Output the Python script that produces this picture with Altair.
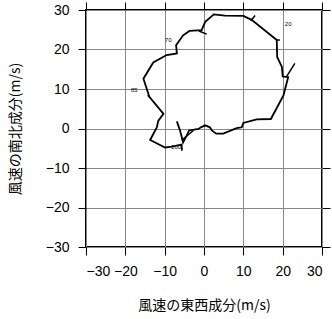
import altair as alt
import pandas as pd

# hodograph path (u: east-west, v: north-south), in order
u_vals = [-6.9, -6.1, -5.3, -4.4, -3.8, -1.4, -0.8, 0.3, 1.5, 2.0, 3.1, 4.9, 8.3, 9.6, 10.0,
          13.4, 17.0, 20.2, 21.4, 20.0, 19.8, 18.6, 18.5, 12.1, 10.0, 5.3, 2.5, 0.3, -0.6,
          -3.7, -5.3, -7.1, -6.9, -9.5, -12.9, -15.4, -13.9, -10.3, -11.6, -12.0, -13.7,
          -9.9, -8.2, -5.7, -5.6]
v_vals = [1.8, -0.5, -3.5, -1.8, -0.5, -0.1, 0.3, 0.8, 0.3, -0.5, -1.3, -1.3, 0.1, 0.3, 1.4,
          2.3, 2.4, 8.4, 13.0, 13.2, 15.6, 18.1, 22.4, 27.5, 28.5, 28.6, 28.9, 27.0, 24.9,
          24.7, 23.6, 21.1, 19.0, 18.6, 16.7, 12.6, 8.0, 3.7, 2.0, 0.3, -2.9,
          -4.8, -4.6, -4.1, -5.6]

# small barb ticks along the path
barb_u1 = [11.9, 20.9, -1.3, 18.3, -14.3, -5.7]
barb_v1 = [27.3, 13.0, 24.7, 22.4, 8.4, -3.0]
barb_u2 = [13.0, 23.1, 0.7, 19.3, -13.7, -2.7]
barb_v2 = [28.6, 16.5, 23.9, 22.4, 7.8, -0.5]

# level labels
lab_text = ["20", "70", "85", "100"]
lab_u = [21.4, -9.1, -17.7, -7.1]
lab_v = [26.4, 22.4, 9.7, -4.8]

ticks = [-30, -20, -10, 0, 10, 20, 30]

path_df = pd.DataFrame({"u": u_vals, "v": v_vals, "i": list(range(len(u_vals)))})
barb_df = pd.DataFrame({"u": barb_u1, "v": barb_v1, "u2": barb_u2, "v2": barb_v2})
lab_df = pd.DataFrame({"t": lab_text, "u": lab_u, "v": lab_v})

xscale = alt.Scale(domain=[-30, 30], nice=False)
yscale = alt.Scale(domain=[-30, 30], nice=False)

common_axis = dict(values=ticks, tickSize=8, tickColor="black", tickWidth=1,
                   domain=False, labelFont="Liberation Sans", labelFontSize=14,
                   labelColor="black", labelPadding=9,
                   gridColor="#888888", gridWidth=1, gridOpacity=1,
                   titleFont="Noto Sans CJK JP", titleFontSize=14,
                   titleFontWeight="normal", titleColor="black")

xaxis = alt.Axis(title="風速の東西成分(m/s)", titlePadding=20, **common_axis)
yaxis = alt.Axis(title="風速の南北成分(m/s)", titlePadding=23, **common_axis)

line = alt.Chart(path_df).mark_line(color="black", strokeWidth=1.8, clip=True).encode(
    x=alt.X("u:Q", scale=xscale, axis=xaxis),
    y=alt.Y("v:Q", scale=yscale, axis=yaxis),
    order="i:Q",
)

barbs = alt.Chart(barb_df).mark_rule(color="black", strokeWidth=1.5).encode(
    x=alt.X("u:Q", scale=xscale, axis=None),
    y=alt.Y("v:Q", scale=yscale, axis=None),
    x2="u2:Q",
    y2="v2:Q",
)

labels = alt.Chart(lab_df).mark_text(font="Liberation Sans", fontSize=6, color="black").encode(
    x=alt.X("u:Q", scale=xscale, axis=None),
    y=alt.Y("v:Q", scale=yscale, axis=None),
    text="t:N",
)

# mirror ticks on top and right
mirror_axis = dict(values=ticks, tickSize=8, tickColor="black", tickWidth=1,
                   domain=False, labels=False, labelOpacity=0, labelExpr="''",
                   grid=False, title=None)
mirror = alt.Chart(path_df).mark_point(opacity=0).encode(
    x=alt.X("u:Q", scale=xscale, axis=alt.Axis(orient="top", **mirror_axis)),
    y=alt.Y("v:Q", scale=yscale, axis=alt.Axis(orient="right", **mirror_axis)),
)

chart = alt.layer(line, barbs, labels, mirror).resolve_axis(
    x="independent", y="independent"
).properties(
    width=236, height=237,
    autosize=alt.AutoSizeParams(type="none"),
    padding={"left": 86, "top": 10, "right": 10, "bottom": 72},
    background="white",
).configure_view(stroke="black", strokeWidth=2)

chart.save("out.html", embed_options={"renderer": "svg", "actions": False})
